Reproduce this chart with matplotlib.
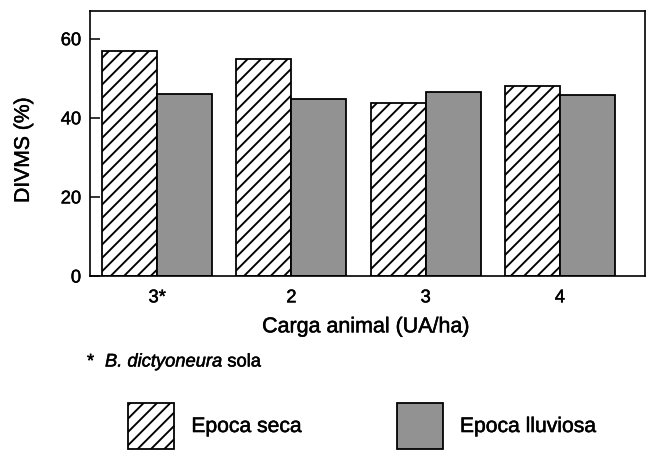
import numpy as np
import matplotlib
matplotlib.use("Agg")
import matplotlib.pyplot as plt
import matplotlib.patheffects as pe

plt.rcParams['font.family'] = ['Liberation Sans', 'DejaVu Sans']
plt.rcParams['hatch.linewidth'] = 1.7

# datos
cargas = ["3*", "2", "3", "4"]
epoca_seca = [57.0, 54.9, 43.8, 48.1]
epoca_lluviosa = [46.1, 44.8, 46.6, 45.8]

x = np.arange(len(cargas))
w = 0.41
gris = '#929292'
grueso = [pe.withStroke(linewidth=0.45, foreground='black')]

fig = plt.figure(figsize=(8.1, 5.625), dpi=80)
ax = fig.add_axes([90/648, 1-276/450, 555/648, 265/450])

ax.bar(x - w/2, epoca_seca, w, facecolor='white', edgecolor='black',
       hatch='//', linewidth=1.6, label='Epoca seca')
ax.bar(x + w/2, epoca_lluviosa, w, facecolor=gris, edgecolor='black',
       linewidth=1.6, label='Epoca lluviosa')

ax.set_xlim(-0.5, 3.634)
ax.set_ylim(0, 67)
ax.set_yticks([0, 20, 40, 60])
ax.set_xticks(x)
ax.set_xticklabels(cargas)
ax.tick_params(axis='y', direction='in', length=9, width=1.4, labelsize=16.5, pad=8)
ax.tick_params(axis='x', length=0, labelsize=16.5, pad=12)
for s in ax.spines.values():
    s.set_linewidth(1.5)

ax.set_xlabel("Carga animal (UA/ha)", fontsize=19.3)
ax.xaxis.set_label_coords(0.497, -0.156)
ax.set_ylabel("DIVMS (%)", fontsize=19)
ax.yaxis.set_label_coords(-0.103, 0.475)

# nota al pie
fig.text(87/648, 1-362/450, "*", fontsize=16.5, va='center')
t = fig.text(105/648, 1-362/450, "B. dictyoneura", fontsize=16.5,
             style='italic', va='center')
ax.annotate("sola", xy=(1, 0.5), xycoords=t, xytext=(4, 0),
            textcoords='offset points', fontsize=16.5, va='center')

h, l = ax.get_legend_handles_labels()
leg = fig.legend(h, l, loc='upper left', bbox_to_anchor=(128/648, 1-403/450),
                 ncol=2, frameon=False, fontsize=19, handlelength=2.2,
                 handleheight=2.95, handletextpad=0.8, columnspacing=4.5,
                 borderpad=0, borderaxespad=0)

for txt in fig.findobj(matplotlib.text.Text):
    txt.set_path_effects(grueso)

fig.savefig("out.png", dpi=80)
